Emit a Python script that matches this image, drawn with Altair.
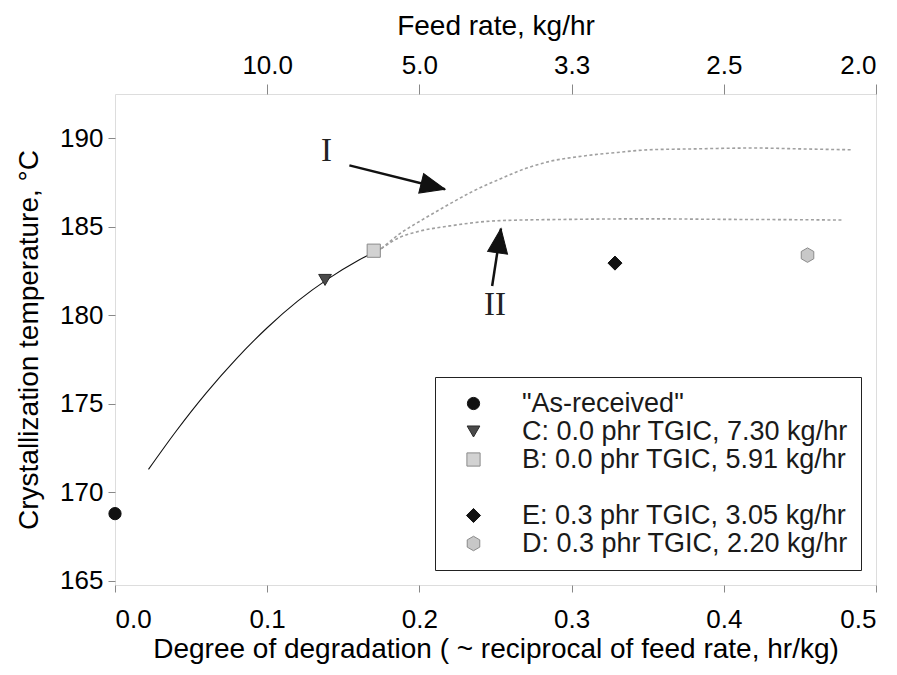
import altair as alt
import pandas as pd

# ---------------- data ----------------
legend_labels = ['"As-received"', 'C: 0.0 phr TGIC, 7.30 kg/hr', 'B: 0.0 phr TGIC, 5.91 kg/hr',
                 ' ', 'E: 0.3 phr TGIC, 3.05 kg/hr', 'D: 0.3 phr TGIC, 2.20 kg/hr']
pt_series = ['"As-received"', 'C: 0.0 phr TGIC, 7.30 kg/hr', 'B: 0.0 phr TGIC, 5.91 kg/hr',
             'E: 0.3 phr TGIC, 3.05 kg/hr', 'D: 0.3 phr TGIC, 2.20 kg/hr']
pt_x = [0.0, 0.138, 0.170, 0.3285, 0.455]
pt_y = [168.8, 182.0, 183.65, 182.95, 183.4]

fit_x = [0.022, 0.040, 0.060, 0.080, 0.100, 0.120, 0.140, 0.160, 0.175]
fit_y = [171.3, 173.44, 175.62, 177.57, 179.30, 180.80, 182.06, 183.11, 183.77]

c1_x = [0.175, 0.187, 0.200, 0.218, 0.235, 0.253, 0.270, 0.286, 0.308, 0.330, 0.351, 0.380, 0.420, 0.450, 0.484]
c1_y = [183.77, 184.6, 185.3, 186.2, 187.0, 187.7, 188.3, 188.7, 189.0, 189.2, 189.35, 189.4, 189.45, 189.4, 189.35]
c2_x = [0.175, 0.187, 0.200, 0.220, 0.253, 0.300, 0.350, 0.400, 0.450, 0.478]
c2_y = [183.77, 184.4, 184.75, 185.05, 185.35, 185.42, 185.45, 185.42, 185.4, 185.38]

arrow_x0 = [0.154, 0.2478]
arrow_y0 = [188.47, 181.66]
arrow_x1 = [0.2168, 0.2536]
arrow_y1 = [187.12, 184.9]
arrow_angle = [104, 8]

lab_text = ["I", "II"]
lab_x = [0.139, 0.2497]
lab_y = [189.28, 180.6]

x_ticks = [0.0, 0.1, 0.2, 0.3, 0.4, 0.5]
top_ticks = [0.1, 0.2, 0.3, 0.4, 0.5]
y_ticks = [165, 170, 175, 180, 185, 190]

# ---------------- styling ----------------
FONT = "Liberation Sans"
TXT = "#1a1a1a"
LBL = 26
TTL = 28
shape_range = ["circle", "triangle-down", "square", "M0,0L0,0Z", "diamond",
               "M0,-1L0.866,-0.5L0.866,0.5L0,1L-0.866,0.5L-0.866,-0.5Z"]
fill_range = ["#111111", "#4a4a4a", "#d2d2d2", "#ffffff", "#111111", "#c8c8c8"]
stroke_range = ["#111111", "#2a2a2a", "#8a8a8a", "#ffffff", "#111111", "#8a8a8a"]
size_range = [150, 210, 170, 10, 330, 260]

X_SCALE = alt.Scale(domain=[0, 0.5], nice=False, zero=False)
Y_SCALE = alt.Scale(domain=[164.77, 192.5], nice=False, zero=False)
Y_TITLE = "Crystallization temperature, \u00b0C"

def yenc(field="y"):
    return alt.Y(f"{field}:Q", scale=Y_SCALE, title=Y_TITLE,
                 axis=alt.Axis(values=y_ticks, format="d", tickSize=7, labelPadding=5,
                               titlePadding=16, domain=False, grid=False,
                               labelFontSize=LBL, titleFontSize=TTL, titleFontWeight="normal",
                               labelFont=FONT, titleFont=FONT))

def xnone(field="x"):
    return alt.X(f"{field}:Q", scale=X_SCALE, axis=None)

pts = pd.DataFrame({"x": pt_x, "y": pt_y, "s": pt_series})
fit = pd.DataFrame({"x": fit_x, "y": fit_y})
c1 = pd.DataFrame({"x": c1_x, "y": c1_y})
c2 = pd.DataFrame({"x": c2_x, "y": c2_y})
arr = pd.DataFrame({"x": arrow_x0, "y": arrow_y0, "x2": arrow_x1, "y2": arrow_y1, "a": arrow_angle})
labs = pd.DataFrame({"x": lab_x, "y": lab_y, "t": lab_text})

fit_layer = alt.Chart(fit).mark_line(color="#111111", strokeWidth=1.1, interpolate="monotone").encode(
    x=alt.X("x:Q", scale=X_SCALE,
            title="Degree of degradation ( ~ reciprocal of feed rate, hr/kg)",
            axis=alt.Axis(orient="bottom", values=x_ticks, format=".1f", tickSize=7,
                          labelPadding=14, titlePadding=3, domain=False, grid=False,
                          labelFontSize=LBL, titleFontSize=TTL, titleFontWeight="normal",
                          labelFont=FONT, titleFont=FONT)),
    y=yenc(),
)

c1_layer = alt.Chart(c1).mark_line(color="#a0a0a0", strokeWidth=1.6, strokeDash=[3, 2.5],
                                   interpolate="monotone").encode(
    x=alt.X("x:Q", scale=X_SCALE, title="Feed rate, kg/hr",
            axis=alt.Axis(orient="top", values=top_ticks, labelExpr="format(1/datum.value, '.1f')",
                          tickSize=10, labelPadding=6, titlePadding=12, domain=False, grid=False,
                          labelFontSize=LBL, titleFontSize=TTL, titleFontWeight="normal",
                          labelFont=FONT, titleFont=FONT)),
    y=yenc(),
)
c2_layer = alt.Chart(c2).mark_line(color="#a0a0a0", strokeWidth=1.6, strokeDash=[3, 2.5],
                                   interpolate="monotone").encode(x=xnone(), y=yenc())

shaft = alt.Chart(arr).mark_rule(color="#111111", strokeWidth=2.5).encode(
    x=xnone(), y=yenc(), x2="x2:Q", y2="y2:Q")
heads = alt.Chart(arr).mark_point(shape="M0,0L0.82,2L-0.82,2Z", filled=True, fill="#111111",
                                  stroke="#111111", strokeWidth=1, size=600, opacity=1).encode(
    x=xnone("x2"), y=yenc("y2"), angle=alt.Angle("a:Q", scale=None))

texts = alt.Chart(labs).mark_text(font="Liberation Serif", fontSize=33, color="#222222").encode(
    x=xnone(), y=yenc(), text="t:N")

legend = alt.Legend(title=None, orient="none", legendX=320, legendY=283,
                    strokeColor="#222222", fillColor="#ffffff", padding=13,
                    labelFont=FONT, labelFontSize=27, labelColor=TXT, labelLimit=0,
                    rowPadding=0, symbolOffset=12, labelOffset=35, symbolStrokeWidth=1)
points = alt.Chart(pts).mark_point(filled=True, opacity=1, strokeWidth=1).encode(
    x=xnone(), y=yenc(),
    shape=alt.Shape("s:N", scale=alt.Scale(domain=legend_labels, range=shape_range), legend=legend),
    fill=alt.Fill("s:N", scale=alt.Scale(domain=legend_labels, range=fill_range), legend=legend),
    stroke=alt.Stroke("s:N", scale=alt.Scale(domain=legend_labels, range=stroke_range), legend=legend),
    size=alt.Size("s:N", scale=alt.Scale(domain=legend_labels, range=size_range), legend=legend),
)

chart = alt.layer(fit_layer, c1_layer, c2_layer, shaft, heads, texts, points).resolve_axis(
    x="independent"
).properties(
    width=761, height=491,
    autosize=alt.AutoSizeParams(type="none"),
    padding={"left": 107, "top": 86, "right": 13, "bottom": 82},
).configure_view(
    stroke="#222222", strokeWidth=1.2
).configure_axis(
    labelFont=FONT, titleFont=FONT, labelColor=TXT, titleColor=TXT,
    titleFontWeight="normal", tickColor="#222222", tickWidth=1.2,
).configure(background="white")

chart.save("out.html", embed_options={"renderer": "svg", "actions": False})
